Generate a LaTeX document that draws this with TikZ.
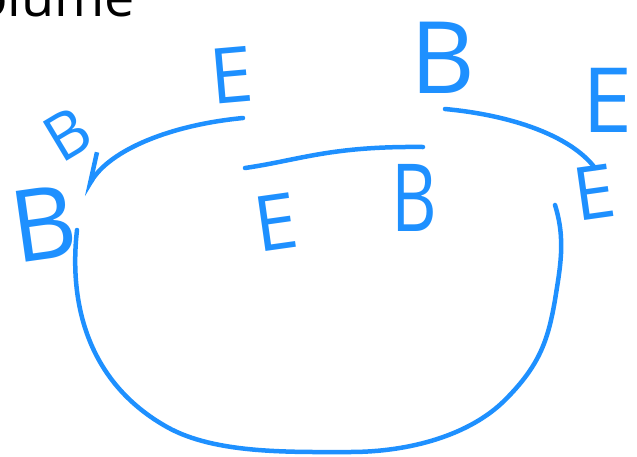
\documentclass[tikz,border=0pt]{standalone}
\usepackage{fontspec}
\setmainfont{Open Sans}
\usetikzlibrary{arrows.meta}
\definecolor{inkBlue}{HTML}{1E90FF}
\tikzset{
  pen/.style={inkBlue,line width=4.5pt,line cap=round,line join=round},
  glyph/.style={text=inkBlue,inner sep=0pt,font=\fontsize{#1}{#1}\selectfont},
}
\begin{document}
\begin{tikzpicture}[x=1pt,y=-1pt]
\useasboundingbox (0,0) rectangle (637,456);
% heading, cut off at the left edge
\node[anchor=base west,inner sep=0pt,font=\fontsize{54}{54}\selectfont] (title) at (-25,16) {olume};
% letters
\node[glyph=77,rotate=5] (eTop) at (231,75) {E};
\node[glyph=64,rotate=31] (bLeftUp) at (68,134) {B};
\node[glyph=100,rotate=8] (bLeftLow) at (44,224) {B};
\node[glyph=100] (bTop) at (443,58) {B};
\node[glyph=90] (eRightUp) at (608,100) {E};
\node[glyph=77,rotate=8] (eMid) at (276,222) {E};
\node[glyph=94,xscale=0.75] (bMid) at (414,198) {B};
\node[glyph=74,rotate=8] (eRightLow) at (594,192) {E};
% curves between the letters
\coordinate (arrS) at (243,118);
\coordinate (arrE) at (83,195);
\coordinate (bendS) at (445,109);
\coordinate (bendE) at (595,168);
\coordinate (midS) at (245,168);
\coordinate (midE) at (423,147);
\draw[pen,-{Straight Barb[right,length=30pt,width=20pt]}] (arrS) .. controls (170,125) and (110,150) .. (arrE);
\draw[pen] (bendS) .. controls (510,115) and (570,135) .. (bendE);
\draw[pen] (midS) .. controls (300,160) and (330,146) .. (midE);
% the bowl
\draw[pen] (77,230) .. controls (68,310) and (92,385) .. (167,427)
  .. controls (215,454) and (290,452) .. (350,452)
  .. controls (410,452) and (470,435) .. (505,400)
  .. controls (540,365) and (548,340) .. (555,300)
  .. controls (560,268) and (566,240) .. (555,205);
\end{tikzpicture}
\end{document}
